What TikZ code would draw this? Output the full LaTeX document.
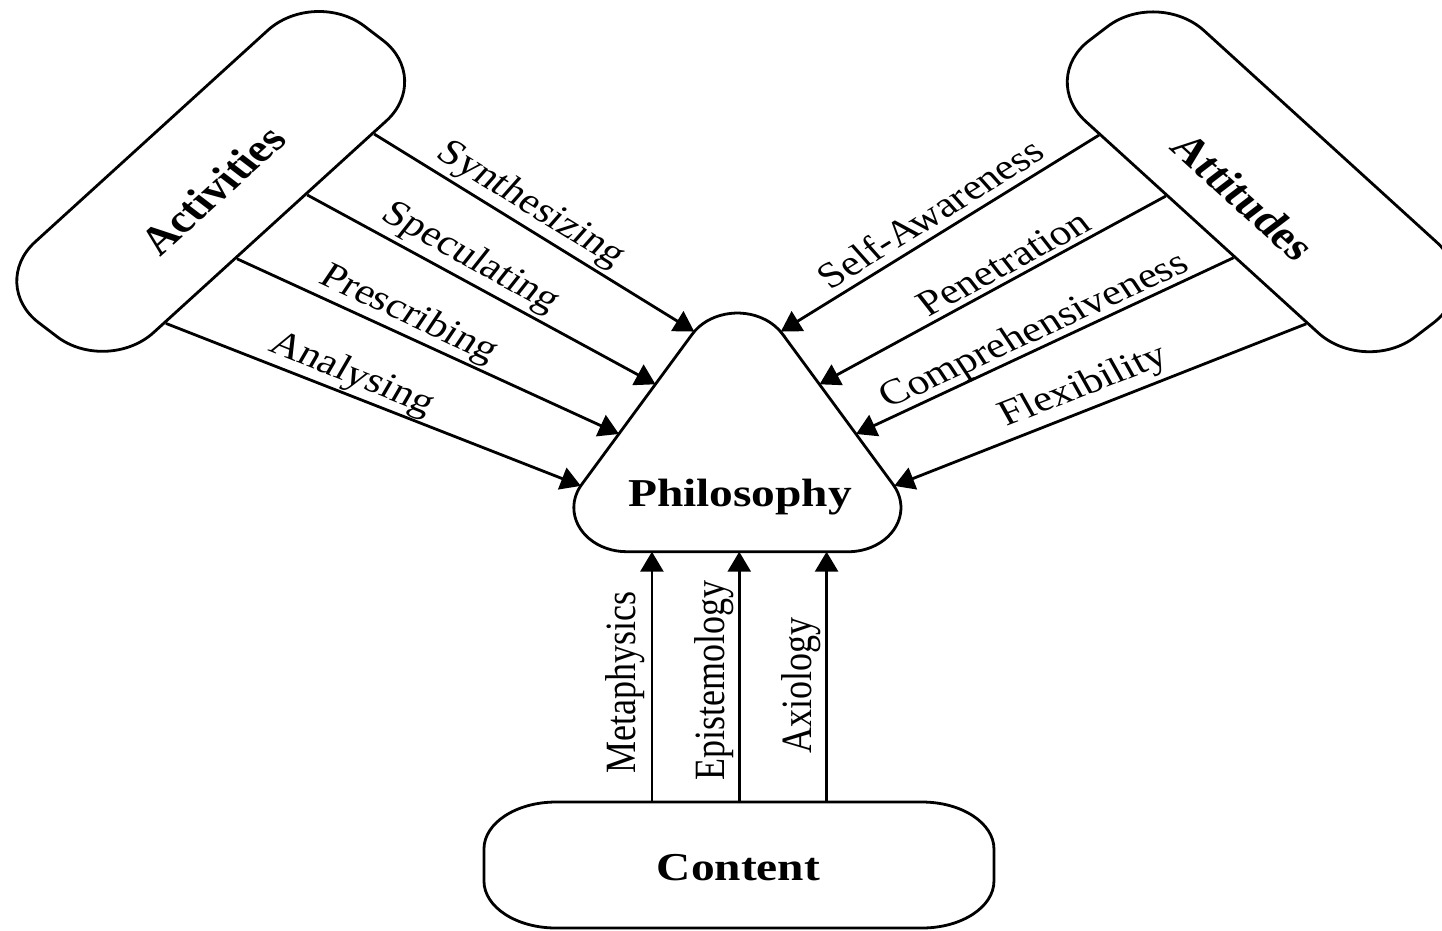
\documentclass[tikz,border=0pt]{standalone}
\usepackage{fontspec}
\setmainfont{Liberation Serif}
\usetikzlibrary{arrows.meta,calc}
\tikzset{
  conn/.style={line width=2.8pt, -{Triangle[length=20pt,width=23pt]}},
  boxshape/.style={draw, line width=2.8pt, minimum width=402pt, minimum height=134pt, inner sep=0pt, rounded corners=63pt},
  lbl/.style={font=\fontsize{36}{40}\selectfont, inner sep=0pt},
  ttl/.style={font=\fontsize{39.5}{44}\selectfont\bfseries, inner sep=0pt},
  outline/.style={line width=2.8pt}
}
\begin{document}
\begin{tikzpicture}[x=1pt,y=1pt]
\begin{scope}[xscale=1.2, transform shape]
\useasboundingbox (0,0) rectangle (1201.667,-930);
\clip (0,0) rectangle (1201.667,-930);
% side boxes
\node[boxshape, rotate=47.5] (act) at (175.6,-181.4) {};
\node[boxshape, rotate=-47.5] (att) at (1051,-181.8) {};
\node[ttl, rotate=47.5] (actl) at (177.1,-190) {Activities};
\node[ttl, rotate=-47.5] (attl) at (1036.1,-196.7) {Attitudes};
% philosophy triangle (sharp corners as reference points)
\coordinate (phT) at (614.5,-272.7);
\coordinate (phL) at (443.6,-551.7);
\coordinate (phR) at (785.4,-551.7);
\draw[outline] (652.1,-334.1) -- (744.3,-484.6)
  arc[start angle=31.49, end angle=-90, radius=44.1] -- (522.3,-551.7)
  arc[start angle=270, end angle=148.51, radius=44.1] -- (576.9,-334.1)
  arc[start angle=148.51, end angle=31.49, radius=44.1] -- cycle;
\node[ttl, anchor=base] (phil) at (616.7,-506.7) {Philosophy};
% content box
\node[minimum width=425pt, minimum height=126pt, inner sep=0pt] (content) at (615.8,-865) {};
\draw[outline] (463.3,-802) -- (768.3,-802)
  arc[start angle=90,end angle=0,x radius=60,y radius=47] -- (828.3,-881)
  arc[start angle=0,end angle=-90,x radius=60,y radius=47] -- (463.3,-928)
  arc[start angle=270,end angle=180,x radius=60,y radius=47] -- (403.3,-849)
  arc[start angle=180,end angle=90,x radius=60,y radius=47] -- cycle;
\node[ttl, anchor=base] (contl) at (615.4,-880) {Content};
% left connectors
\draw[conn] ($(act.south)!0.627!(act.south east)$) -- ($(phT)!0.211!(phL)$);
\draw[conn] ($(act.south)!0.219!(act.south east)$) -- ($(phT)!0.40!(phL)$);
\draw[conn] ($(act.south)!-0.209!(act.south east)$) -- ($(phT)!0.578!(phL)$);
\draw[conn] ($(act.south)!-0.642!(act.south east)$) -- ($(phT)!0.764!(phL)$);
% right connectors
\draw[conn] ($(att.south)!-0.622!(att.south east)$) -- ($(phT)!0.211!(phR)$);
\draw[conn] ($(att.south)!-0.214!(att.south east)$) -- ($(phT)!0.40!(phR)$);
\draw[conn] ($(att.south)!0.199!(att.south east)$) -- ($(phT)!0.578!(phR)$);
\draw[conn] ($(att.south)!0.642!(att.south east)$) -- ($(phT)!0.764!(phR)$);
% bottom connectors
\coordinate (c1) at ($(content.north west)!0.329!(content.north east)$);
\coordinate (c2) at ($(content.north west)!0.5!(content.north east)$);
\coordinate (c3) at ($(content.north west)!0.671!(content.north east)$);
\draw[conn] (c1) -- (c1 |- phL);
\draw[conn] (c2) -- (c2 |- phL);
\draw[conn] (c3) -- (c3 |- phL);
% labels
\node[lbl, rotate=-36.5] (lsyn) at (442.2,-205) {Synthesizing};
\node[lbl, rotate=-33.5] (lspe) at (392.2,-258.3) {Speculating};
\node[lbl, rotate=-29.3] (lpre) at (340.3,-315) {Prescribing};
\node[lbl, rotate=-25.8] (lana) at (293.1,-375) {Analysing};
\node[lbl, rotate=36.6] (lsel) at (775,-213.3) {Self-Awareness};
\node[lbl, rotate=33.1] (lpen) at (836.1,-263.3) {Penetration};
\node[lbl, rotate=28.9] (lcom) at (862.5,-331.7) {Comprehensiveness};
\node[lbl, rotate=25.05] (lfle) at (903.3,-387) {Flexibility};
\node[lbl, rotate=90] (lmet) at (520.8,-682.5) {Metaphysics};
\node[lbl, rotate=90] (lepi) at (595,-680.8) {Epistemology};
\node[lbl, rotate=90] (laxi) at (667.4,-685.8) {Axiology};
\end{scope}
\end{tikzpicture}
\end{document}
